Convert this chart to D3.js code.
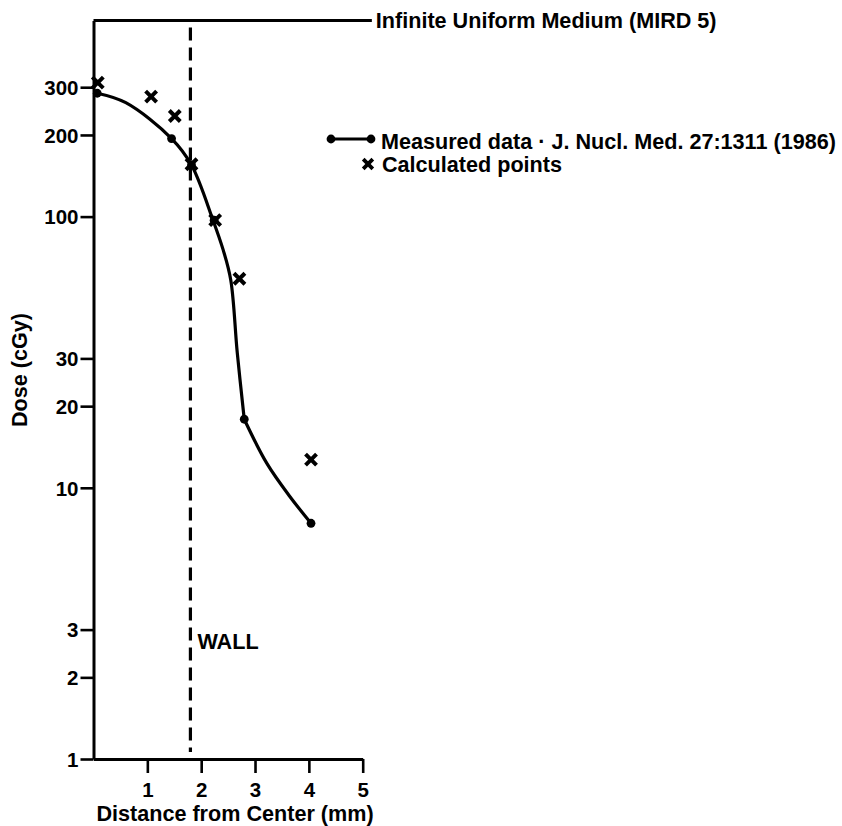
<!DOCTYPE html>
<html>
<head>
<meta charset="utf-8">
<script src="https://cdn.jsdelivr.net/npm/d3@7"></script>
<style>
  html, body { margin: 0; padding: 0; background: #fff; }
  svg { display: block; }
  text { font-family: "Liberation Sans", Arial, Helvetica, sans-serif; font-weight: bold; fill: #000; }
</style>
</head>
<body>
<svg id="chart" width="842" height="826"></svg>
<script>
// ---- data ----
const xTicks = [1, 2, 3, 4, 5];
const yTicks = [1, 2, 3, 10, 20, 30, 100, 200, 300];
const infiniteMediumDose = 528;          // MIRD 5 infinite uniform medium
const infiniteMediumXEnd = 5.17;
const wallX = 1.8;

// measured data points (circles)
const measuredX = [0.07, 1.45, 1.82, 2.24, 2.80, 4.04];
const measuredY = [285, 194, 155, 97, 17.9, 7.4];
// measured curve (two pieces meeting at the 2.8 mm point)
const curveAX = [0.07, 0.6, 1.45, 1.82, 2.22, 2.41, 2.55, 2.67, 2.80];
const curveAY = [285, 263, 194, 155, 97, 75.2, 58.3, 31.5, 17.9];
const curveBX = [2.80, 3.22, 3.65, 4.04];
const curveBY = [17.9, 12.3, 9.27, 7.4];
// calculated points (crosses)
const calcX = [0.08, 1.07, 1.51, 1.82, 2.26, 2.71, 4.04];
const calcY = [312, 277, 235, 156, 97, 59, 12.7];

const svg = d3.select("#chart");
const x = d3.scaleLinear().domain([0, 5]).range([93.5, 362.7]);
const y = d3.scaleLog().domain([1, infiniteMediumDose]).range([759, 759 - 271.2 * Math.log10(infiniteMediumDose)]);

const FS = 21.6;

// y axis
const yAxis = svg.append("g")
  .attr("transform", `translate(${x(0)},0)`)
  .call(d3.axisLeft(y).tickValues(yTicks).tickFormat(d3.format("d")).tickSize(13).tickSizeOuter(0).tickPadding(2));
yAxis.attr("font-family", null).attr("font-size", null);
yAxis.select(".domain").attr("stroke-width", 3);
yAxis.selectAll(".tick line").attr("stroke-width", 2.6);
yAxis.selectAll(".tick text").attr("font-size", 20.5).attr("dy", "0.36em");

// x axis
const xAxis = svg.append("g")
  .attr("transform", `translate(0,${y(1)})`)
  .call(d3.axisBottom(x).tickValues(xTicks).tickFormat(d3.format("d")).tickSize(14).tickSizeOuter(0).tickPadding(9));
xAxis.attr("font-family", null).attr("font-size", null);
xAxis.select(".domain").attr("stroke-width", 3);
xAxis.selectAll(".tick line").attr("stroke-width", 2.6);
xAxis.selectAll(".tick text").attr("font-size", 20.5);

// infinite uniform medium line
svg.append("line")
  .attr("x1", x(0)).attr("x2", x(infiniteMediumXEnd))
  .attr("y1", y(infiniteMediumDose)).attr("y2", y(infiniteMediumDose))
  .attr("stroke", "#000").attr("stroke-width", 3);
svg.append("text")
  .attr("x", x(infiniteMediumXEnd) + 4).attr("y", y(infiniteMediumDose) + 7.5)
  .attr("font-size", FS)
  .text("Infinite Uniform Medium (MIRD 5)");

// wall
svg.append("line")
  .attr("x1", x(wallX)).attr("x2", x(wallX))
  .attr("y1", y(infiniteMediumDose) + 7).attr("y2", y(1) - 7)
  .attr("stroke", "#000").attr("stroke-width", 3.2)
  .attr("stroke-dasharray", "13,7");
svg.append("text")
  .attr("x", x(wallX) + 7).attr("y", y(2.5) - 2)
  .attr("font-size", FS)
  .text("WALL");

// measured curve
const line = d3.line().x(d => x(d[0])).y(d => y(d[1])).curve(d3.curveCatmullRom.alpha(0.5));
[[curveAX, curveAY], [curveBX, curveBY]].forEach(([cx, cy]) => {
  svg.append("path")
    .datum(cx.map((d, i) => [d, cy[i]]))
    .attr("fill", "none").attr("stroke", "#000").attr("stroke-width", 3.2)
    .attr("stroke-linejoin", "round")
    .attr("d", line);
});

svg.append("g").selectAll("circle")
  .data(measuredX.map((d, i) => [d, measuredY[i]]))
  .join("circle")
  .attr("cx", d => x(d[0])).attr("cy", d => y(d[1])).attr("r", 4.4)
  .attr("fill", "#000");

// calculated crosses
const cross = "M-5.5,-5.5L5.5,5.5M-5.5,5.5L5.5,-5.5";
svg.append("g").selectAll("path")
  .data(calcX.map((d, i) => [d, calcY[i]]))
  .join("path")
  .attr("transform", d => `translate(${x(d[0])},${y(d[1])})`)
  .attr("d", cross)
  .attr("stroke", "#000").attr("stroke-width", 4).attr("fill", "none");

// legend
const lg = svg.append("g");
lg.append("line").attr("x1", 331).attr("x2", 371).attr("y1", 139).attr("y2", 139)
  .attr("stroke", "#000").attr("stroke-width", 3);
lg.selectAll("circle").data([331, 371]).join("circle")
  .attr("cx", d => d).attr("cy", 139).attr("r", 4.4).attr("fill", "#000");
lg.append("text").attr("x", 381).attr("y", 148.5).attr("font-size", FS)
  .text("Measured data \u00B7 J. Nucl. Med. 27:1311 (1986)");
lg.append("path").attr("transform", "translate(368,164)").attr("d", "M-4.8,-4.8L4.8,4.8M-4.8,4.8L4.8,-4.8")
  .attr("stroke", "#000").attr("stroke-width", 3.8);
lg.append("text").attr("x", 382).attr("y", 172).attr("font-size", FS)
  .text("Calculated points");

// axis titles
svg.append("text")
  .attr("x", 235).attr("y", 821)
  .attr("text-anchor", "middle").attr("font-size", FS)
  .text("Distance from Center (mm)");
svg.append("text")
  .attr("transform", `translate(27,370) rotate(-90)`)
  .attr("text-anchor", "middle").attr("font-size", FS)
  .text("Dose (cGy)");
</script>
</body>
</html>
